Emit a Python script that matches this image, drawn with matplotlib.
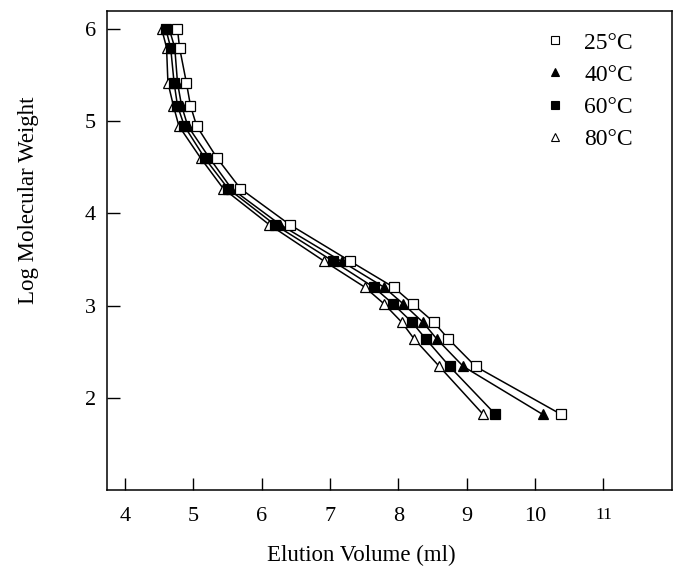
import numpy as np
import matplotlib
matplotlib.use("Agg")
import matplotlib.pyplot as plt
from matplotlib.lines import Line2D

plt.rcParams['font.family'] = ['Liberation Serif', 'DejaVu Serif']

# log molecular weight of the standards (shared by all runs)
log_mw = [6.0, 5.8, 5.42, 5.17, 4.95, 4.6, 4.27, 3.88, 3.48, 3.2, 3.02, 2.82, 2.64, 2.34, 1.82]

# elution volume (ml) at each temperature
vol_25 = [4.77, 4.80, 4.90, 4.96, 5.05, 5.35, 5.69, 6.41, 7.30, 7.93, 8.21, 8.52, 8.73, 9.13, 10.38]
vol_40 = [4.65, 4.73, 4.77, 4.83, 4.92, 5.24, 5.56, 6.27, 7.17, 7.79, 8.07, 8.36, 8.56, 8.95, 10.11]
vol_60 = [4.60, 4.67, 4.72, 4.77, 4.87, 5.17, 5.51, 6.19, 7.05, 7.64, 7.92, 8.20, 8.40, 8.75, 9.42]
vol_80 = [4.54, 4.61, 4.63, 4.71, 4.79, 5.11, 5.44, 6.11, 6.92, 7.51, 7.79, 8.05, 8.23, 8.60, 9.24]

labels = ['25°C', '40°C', '60°C', '80°C']
xticks = [4, 5, 6, 7, 8, 9, 10, 11]
yticks = [2, 3, 4, 5, 6]

fig = plt.figure(figsize=(6.82, 5.67), dpi=100)
ax = fig.add_axes([0.157, 0.136, 0.828, 0.845])

# curves first, markers on top
for v in [vol_80, vol_60, vol_40, vol_25]:
    ax.plot(v, log_mw, color='black', lw=1.1, zorder=2)

ms = 7.5
ax.plot(vol_80, log_mw, ls='none', marker='^', ms=ms, mfc='white', mec='black', mew=0.9, zorder=3)
ax.plot(vol_60, log_mw, ls='none', marker='s', ms=ms - 0.5, mfc='black', mec='black', mew=0.9, zorder=4)
ax.plot(vol_40, log_mw, ls='none', marker='^', ms=ms, mfc='black', mec='black', mew=0.9, zorder=5)
ax.plot(vol_25, log_mw, ls='none', marker='s', ms=ms - 0.5, mfc='white', mec='black', mew=0.9, zorder=6)

ax.set_xlim(3.74, 12.0)
ax.set_ylim(1.0, 6.2)
ax.set_xticks(xticks)
ax.set_yticks(yticks)
ax.tick_params(direction='in', length=9, width=1.0, labelsize=16)
ax.tick_params(axis='x', pad=12)
ax.tick_params(axis='y', pad=8)
for sp in ax.spines.values():
    sp.set_linewidth(1.1)

# the "11" label is printed smaller in the original
xl = ax.get_xticklabels()
xl[-1].set_fontsize(12.5)

ax.set_xlabel('Elution Volume (ml)', fontsize=16.5)
ax.xaxis.set_label_coords(0.45, -0.115)
ax.set_ylabel('Log Molecular Weight', fontsize=16.5)
ax.yaxis.set_label_coords(-0.12, 0.605)

handles = [
    Line2D([], [], ls='none', marker='s', ms=6, mfc='white', mec='black', mew=0.8),
    Line2D([], [], ls='none', marker='^', ms=6, mfc='black', mec='black', mew=0.8),
    Line2D([], [], ls='none', marker='s', ms=6, mfc='black', mec='black', mew=0.8),
    Line2D([], [], ls='none', marker='^', ms=6, mfc='white', mec='black', mew=0.8),
]
ax.legend(handles, labels, loc='upper right', bbox_to_anchor=(0.965, 0.995), frameon=False,
          fontsize=17, handlelength=1.0, handletextpad=0.75, labelspacing=0.45, borderpad=0.3)

fig.savefig('out.png', dpi=100)
